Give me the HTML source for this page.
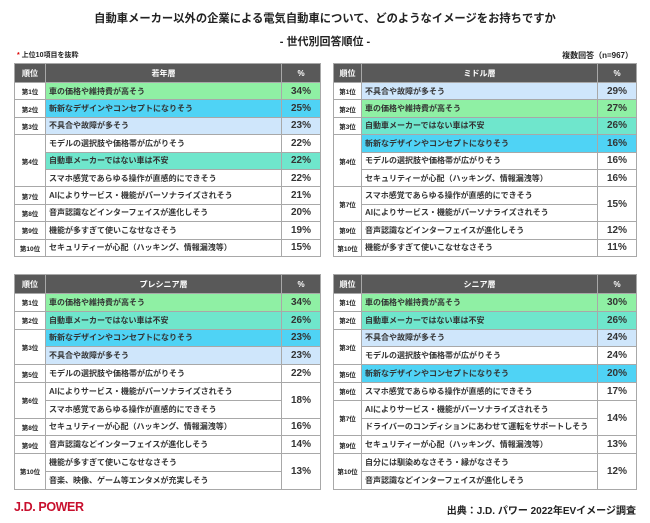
<!DOCTYPE html>
<html><head><meta charset="utf-8">
<style>
body{margin:0;width:650px;height:523px;background:#fff;position:relative;overflow:hidden;font-family:"Liberation Sans","Noto Sans CJK JP",sans-serif;color:#222}
.abs{position:absolute}
table{position:absolute;border-collapse:collapse;table-layout:fixed}
td,th{border:1px solid #a8a8a8;padding:0;overflow:hidden;white-space:nowrap}
th{background:#595959;color:#fff;font-size:8px;font-weight:bold;height:18px}
td.rk{font-size:6.5px;font-weight:bold;text-align:center;background:#fff}
td.it{font-size:8px;font-weight:bold;padding-left:3px;color:#333}
td.pc{font-size:10px;font-weight:bold;text-align:center;color:#333}
.g{background:#8ff0a4}.b{background:#4fd3f5}.l{background:#cfe6fb}.t{background:#6fe6cc}
</style></head><body>
<div class="abs" style="left:0;width:650px;top:10px;text-align:center;font-size:11.3px;font-weight:bold">自動車メーカー以外の企業による電気自動車について、どのようなイメージをお持ちですか</div>
<div class="abs" style="left:0;width:650px;top:33px;text-align:center;font-size:11px;font-weight:bold">- 世代別回答順位 -</div>
<div class="abs" style="left:17px;top:50px;font-size:7px;font-weight:bold"><span style="color:#d00">*</span> 上位10項目を抜粋</div>
<div class="abs" style="right:17px;top:50px;font-size:8px;font-weight:bold">複数回答（n=967）</div>
<div class="abs" style="left:14px;top:500px;font-size:12.5px;font-weight:bold;color:#c8102e;letter-spacing:-0.4px">J.D. POWER</div>
<div class="abs" style="right:14px;top:502px;font-size:10px;font-weight:bold">出典：J.D. パワー 2022年EVイメージ調査</div>
<script>
// rows: [rank, rankRowspan, text, colorClass, pct, pctRowspan]
const youngRows=[["第1位",1,"車の価格や維持費が高そう","g","34%",1],["第2位",1,"斬新なデザインやコンセプトになりそう","b","25%",1],["第3位",1,"不具合や故障が多そう","l","23%",1],["第4位",3,"モデルの選択肢や価格帯が広がりそう","","22%",1],["",0,"自動車メーカーではない車は不安","t","22%",1],["",0,"スマホ感覚であらゆる操作が直感的にできそう","","22%",1],["第7位",1,"AIによりサービス・機能がパーソナライズされそう","","21%",1],["第8位",1,"音声認識などインターフェイスが進化しそう","","20%",1],["第9位",1,"機能が多すぎて使いこなせなさそう","","19%",1],["第10位",1,"セキュリティーが心配（ハッキング、情報漏洩等）","","15%",1]];
const middleRows=[["第1位",1,"不具合や故障が多そう","l","29%",1],["第2位",1,"車の価格や維持費が高そう","g","27%",1],["第3位",1,"自動車メーカーではない車は不安","t","26%",1],["第4位",3,"斬新なデザインやコンセプトになりそう","b","16%",1],["",0,"モデルの選択肢や価格帯が広がりそう","","16%",1],["",0,"セキュリティーが心配（ハッキング、情報漏洩等）","","16%",1],["第7位",2,"スマホ感覚であらゆる操作が直感的にできそう","","15%",2],["",0,"AIによりサービス・機能がパーソナライズされそう","","",0],["第9位",1,"音声認識などインターフェイスが進化しそう","","12%",1],["第10位",1,"機能が多すぎて使いこなせなさそう","","11%",1]];
const preRows=[["第1位",1,"車の価格や維持費が高そう","g","34%",1],["第2位",1,"自動車メーカーではない車は不安","t","26%",1],["第3位",2,"斬新なデザインやコンセプトになりそう","b","23%",1],["",0,"不具合や故障が多そう","l","23%",1],["第5位",1,"モデルの選択肢や価格帯が広がりそう","","22%",1],["第6位",2,"AIによりサービス・機能がパーソナライズされそう","","18%",2],["",0,"スマホ感覚であらゆる操作が直感的にできそう","","",0],["第8位",1,"セキュリティーが心配（ハッキング、情報漏洩等）","","16%",1],["第9位",1,"音声認識などインターフェイスが進化しそう","","14%",1],["第10位",2,"機能が多すぎて使いこなせなさそう","","13%",2],["",0,"音楽、映像、ゲーム等エンタメが充実しそう","","",0]];
const seniorRows=[["第1位",1,"車の価格や維持費が高そう","g","30%",1],["第2位",1,"自動車メーカーではない車は不安","t","26%",1],["第3位",2,"不具合や故障が多そう","l","24%",1],["",0,"モデルの選択肢や価格帯が広がりそう","","24%",1],["第5位",1,"斬新なデザインやコンセプトになりそう","b","20%",1],["第6位",1,"スマホ感覚であらゆる操作が直感的にできそう","","17%",1],["第7位",2,"AIによりサービス・機能がパーソナライズされそう","","14%",2],["",0,"ドライバーのコンディションにあわせて運転をサポートしそう","","",0],["第9位",1,"セキュリティーが心配（ハッキング、情報漏洩等）","","13%",1],["第10位",2,"自分には馴染めなさそう・縁がなさそう","","12%",2],["",0,"音声認識などインターフェイスが進化しそう","","",0]];

function build(name,title,rows,x,y,w,cw,rowH){
  const t=document.createElement('table');
  
  
  t.style.left=x+'px';t.style.top=y+'px';t.style.width=w+'px';
  let h='<colgroup><col style="width:'+cw[0]+'px"><col style="width:'+cw[1]+'px"><col style="width:'+cw[2]+'px"></colgroup>';
  h+='<tr><th>順位</th><th>'+title+'</th><th>%</th></tr>';
  rows.forEach(r=>{
    h+='<tr style="height:'+rowH+'px">';
    if(r[1]) h+='<td class="rk" rowspan="'+r[1]+'">'+r[0]+'</td>';
    h+='<td class="it '+r[3]+'">'+r[2]+'</td>';
    if(r[5]) h+='<td class="pc '+r[3]+'" rowspan="'+r[5]+'">'+r[4]+'</td>';
    h+='</tr>';
  });
  t.innerHTML=h;
  document.body.appendChild(t);
}
build('young-table','若年層',youngRows,14,63,306,[31,236,39],17.4);
build('middle-table','ミドル層',middleRows,333,63,303,[28,236,39],17.4);
build('presenior-table','プレシニア層',preRows,14,274,306,[31,236,39],17.8);
build('senior-table','シニア層',seniorRows,333,274,303,[28,236,39],17.8);
</script>
</body></html>
